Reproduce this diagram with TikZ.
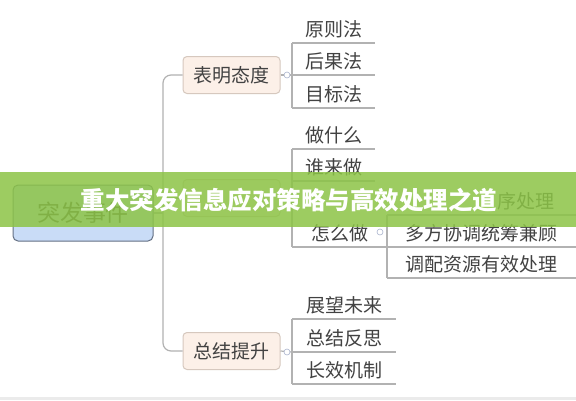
\documentclass[tikz,border=0pt]{standalone}
\usepackage{fontspec}
\newfontfamily\cjk{Noto Sans CJK SC}
\usetikzlibrary{positioning}
\definecolor{lgray}{RGB}{178,178,178}
\definecolor{tgray}{RGB}{66,66,66}
\definecolor{bfill}{RGB}{252,240,232}
\definecolor{bdraw}{RGB}{214,200,190}
\definecolor{rfill}{RGB}{201,220,247}
\definecolor{rdraw}{RGB}{100,112,132}
\definecolor{bandgreen}{RGB}{140,196,70}
\definecolor{knobblue}{RGB}{170,180,205}
\tikzset{
  link/.style={lgray,line width=1.2pt},
  rootbox/.style={draw=rdraw,fill=rfill,line width=1pt,rounded corners=5pt,
    minimum width=140pt,minimum height=56pt,text=tgray,
    font=\cjk\fontsize{23}{23}\selectfont},
  branch/.style={draw=bdraw,fill=bfill,line width=1pt,rounded corners=4pt,
    minimum width=97pt,minimum height=37pt,text=tgray,
    font=\cjk\fontsize{19}{19}\selectfont},
  leaf/.style={anchor=south west,inner sep=0pt,minimum height=28pt,text=tgray,
    font=\cjk\fontsize{19}{19}\selectfont},
  knob/.style={circle,draw=knobblue,fill=white,inner sep=0pt,minimum size=6pt,line width=0.6pt},
  title/.style={text=white,font=\cjk\bfseries\fontsize{24.5}{24.5}\selectfont}
}

\begin{document}
\begin{tikzpicture}[x=1pt,y=-1pt]
  \useasboundingbox (0,0) rectangle (576,400);
  \fill[white] (0,0) rectangle (576,400);
  \fill[black!8] (0,397) rectangle (576,400);

  % root and trunk
  \node[rootbox] (root) at (83,213) {突发事件};
  \coordinate (trunk) at (163,213);
  \node[branch] (attitude) at (231.5,75) {表明态度};
  \node[branch] (measures) at (231.5,198) {};
  \node[branch] (summary) at (231.5,351) {总结提升};
  \draw[link] (root.east) -- (trunk);
  \draw[link,rounded corners=8pt] (attitude.west) -| (trunk) |- (summary.west);
  \draw[link] (measures.west) -- (measures.west -| trunk);

  % first branch
  \node[leaf,minimum width=83pt] (a1) at (292,43) {原则法};
  \node[leaf,minimum width=83pt] (a2) at (292,75) {后果法};
  \node[leaf,minimum width=83pt] (a3) at (292,108) {目标法};
  \draw[link] (attitude.east) -- (a2.south west);
  \draw[link] (a1.south west) -- (a3.south west);
  \foreach \n in {a1,a2,a3}
    \draw[link] (\n.south west) -- (\n.south east);
  \node[knob] (k1) at (287,75) {};

  % second branch
  \node[leaf,minimum width=83pt] (m1) at (292,149) {做什么};
  \node[leaf,minimum width=83pt] (m2) at (292,181) {谁来做};
  \node[leaf,minimum width=95pt] (m3) at (292,247) {怎么做};
  \draw[link] (measures.east) -- (measures.east -| m1.south west);
  \draw[link] (m1.south west) -- (m3.south west);
  \foreach \n in {m1,m2,m3}
    \draw[link] (\n.south west) -- (\n.south east);
  \node[knob] (k2) at (287,198) {};

  \node[leaf,minimum width=189pt,text width=146pt,align=right] (h1) at (387,215) {序处理};
  \node[leaf,minimum width=189pt] (h2) at (387,247) {多方协调统筹兼顾};
  \node[leaf,minimum width=189pt] (h3) at (387,278) {调配资源有效处理};
  \draw[link] (h1.south west) -- (h3.south west);
  \foreach \n in {h1,h2,h3}
    \draw[link] (\n.south west) -- (\n.south east);
  \node[knob] (k3) at (380,232) {};

  % third branch
  \node[leaf,minimum width=104pt] (s1) at (292,319) {展望未来};
  \node[leaf,minimum width=104pt] (s2) at (292,352) {总结反思};
  \node[leaf,minimum width=104pt] (s3) at (292,384) {长效机制};
  \draw[link] (summary.east) -- (s2.south west);
  \draw[link] (s1.south west) -- (s3.south west);
  \foreach \n in {s1,s2,s3}
    \draw[link] (\n.south west) -- (\n.south east);
  \node[knob] (k4) at (287,352) {};

  % banner
  \fill[bandgreen,opacity=0.85] (0,172) rectangle (576,227);
  \node[title] (head) at (289,200) {重大突发信息应对策略与高效处理之道};
\end{tikzpicture}
\end{document}
